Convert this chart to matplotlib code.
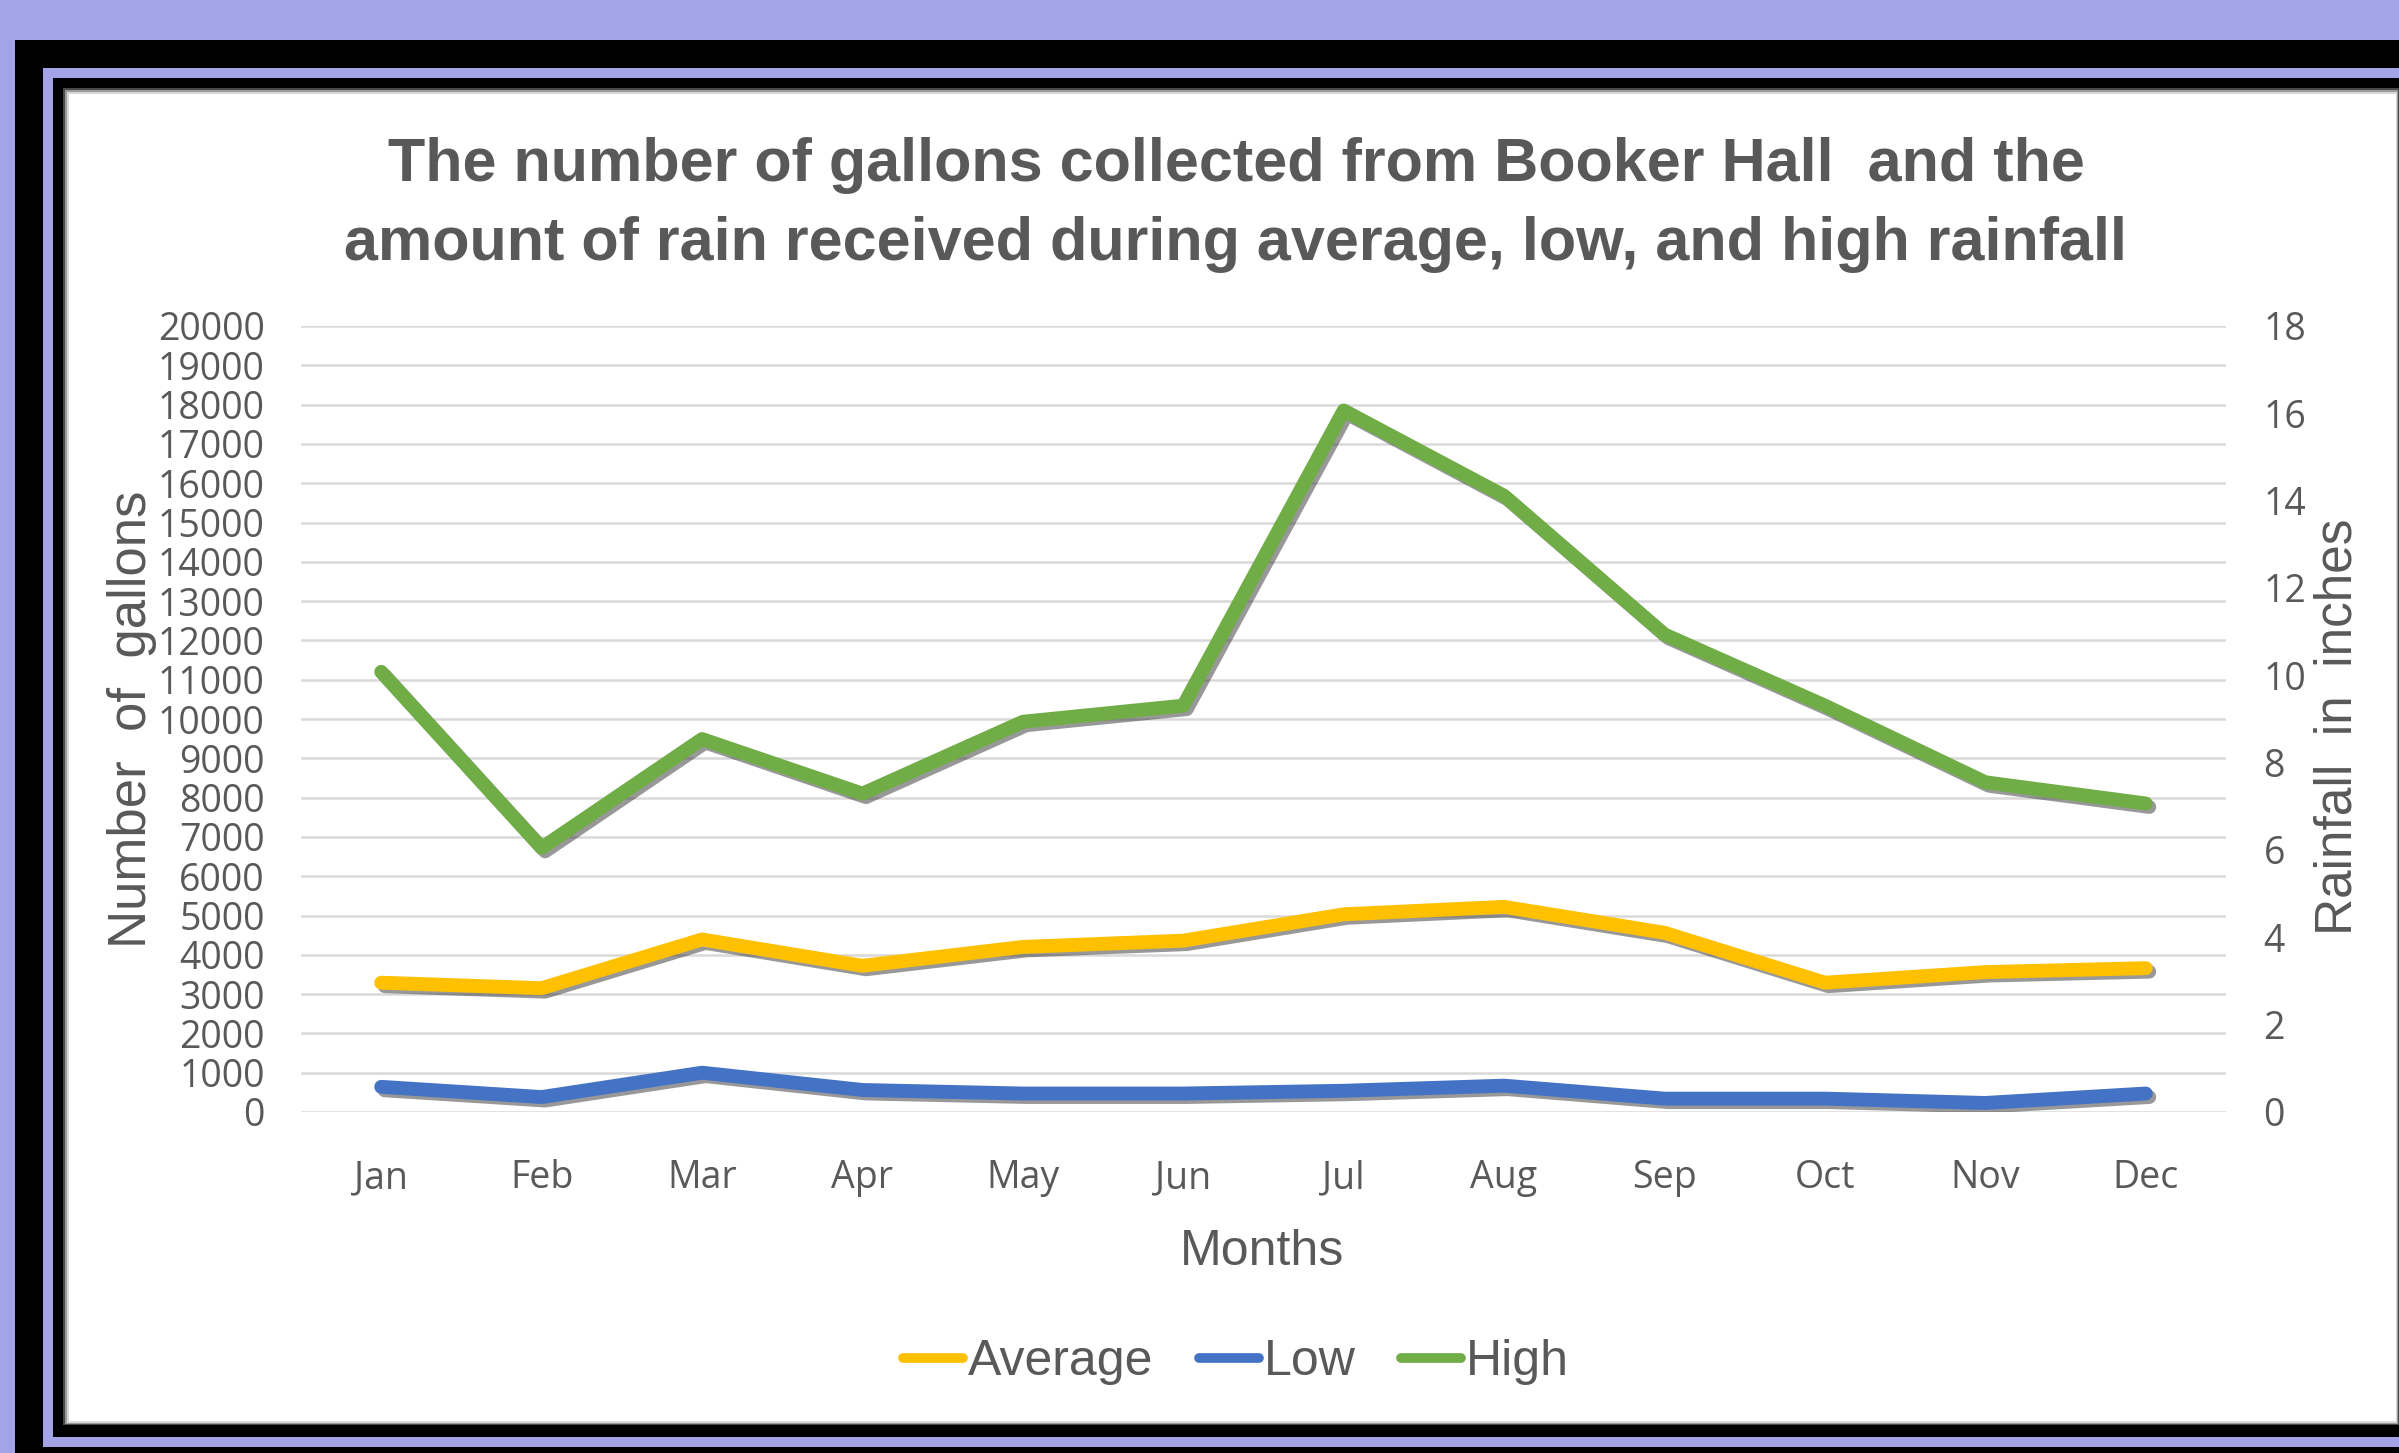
import matplotlib
matplotlib.use("Agg")
import matplotlib.pyplot as plt
import matplotlib.patheffects as pe
from matplotlib.patches import Rectangle

# chart data
months = ['Jan', 'Feb', 'Mar', 'Apr', 'May', 'Jun', 'Jul', 'Aug', 'Sep', 'Oct', 'Nov', 'Dec']
average = [3290, 3150, 4390, 3720, 4200, 4360, 5030, 5220, 4560, 3290, 3560, 3660]
low = [640, 380, 1000, 560, 470, 470, 540, 670, 340, 340, 230, 470]
high = [11200, 6720, 9490, 8100, 9930, 10340, 17850, 15680, 12150, 10340, 8390, 7850]
gallon_ticks = list(range(0, 20001, 1000))
rain_ticks = list(range(0, 19, 2))

W, H = 2399, 1453
LAVENDER = '#A3A3E8'
GREY_TEXT = '#595959'

fig = plt.figure(figsize=(W / 100, H / 100), dpi=100)
fig.patch.set_facecolor(LAVENDER)


def rect(x0, y0, x1, y1, color, z=0):
    # pixel coords measured from the top-left corner
    fig.add_artist(Rectangle((x0 / W, 1 - y1 / H), (x1 - x0) / W, (y1 - y0) / H,
                             transform=fig.transFigure, facecolor=color,
                             edgecolor='none', zorder=z))


# frame of the screenshot, with a soft inner shadow on the white card
rect(15, 40, W + 10, H + 10, 'black', -5)
rect(43, 68, W + 10, 1447, LAVENDER, -4)
rect(53, 78, W + 10, 1437, 'black', -3)
rect(63, 88, W, 1425, '#4a4a4a', -2.6)
rect(65, 90, W - 1, 1424, '#9a9a9a', -2.3)
rect(67, 92, W - 2, 1423, '#d8d8d8', -2)
rect(69, 94, W - 3, 1421, 'white', -1)

ax = fig.add_axes([301 / W, 1 - 1112 / H, (2226 - 301) / W, (1112 - 326) / H])
ax.set_facecolor('none')

shadow = [pe.SimpleLineShadow(offset=(2.5, -2.5), shadow_color='#333333', alpha=0.5), pe.Normal()]
x = range(len(months))
ax.plot(x, average, color='#FFC000', lw=10, label='Average', path_effects=shadow, solid_capstyle='round')
ax.plot(x, low, color='#4472C4', lw=10, label='Low', path_effects=shadow, solid_capstyle='round')
ax.plot(x, high, color='#70AD47', lw=10, label='High', path_effects=shadow, solid_capstyle='round')

ax.set_xlim(-0.5, len(months) - 0.5)
ax.set_ylim(0, 20000)
ax.set_yticks(gallon_ticks)
ax.set_xticks(list(x))
ax.set_xticklabels(months)
ax.grid(axis='y', color='#D9D9D9', lw=1.8)
ax.set_axisbelow(True)
for s in ax.spines.values():
    s.set_visible(False)
ax.tick_params(axis='both', length=0, labelcolor=GREY_TEXT, labelsize=27)
ax.tick_params(axis='y', pad=26)
ax.tick_params(axis='x', pad=34)
for lab in ax.get_xticklabels() + ax.get_yticklabels():
    lab.set_family(['Open Sans', 'DejaVu Sans'])

ax2 = ax.twinx()
ax2.set_ylim(0, 18)
ax2.set_yticks(rain_ticks)
for s in ax2.spines.values():
    s.set_visible(False)
ax2.tick_params(axis='y', length=0, labelcolor=GREY_TEXT, labelsize=27, pad=27)
for lab in ax2.get_yticklabels():
    lab.set_family(['Open Sans', 'DejaVu Sans'])

font = ['Liberation Sans', 'DejaVu Sans']
fig.text(1236 / W, 1 - 205 / H,
         'The number of gallons collected from Booker Hall  and the\n'
         'amount of rain received during average, low, and high rainfall',
         ha='center', va='center', fontsize=44, fontweight='bold', color=GREY_TEXT,
         family=font, linespacing=1.5)
fig.text(132 / W, 1 - 719 / H, 'Number  of  gallons', rotation=90, ha='center', va='center',
         fontsize=38, color=GREY_TEXT, family=font)
fig.text(2338 / W, 1 - 727 / H, 'Rainfall  in  inches', rotation=90, ha='center', va='center',
         fontsize=37, color=GREY_TEXT, family=font)
fig.text(1262 / W, 1 - 1252 / H, 'Months', ha='center', va='center',
         fontsize=36, color=GREY_TEXT, family=font)

leg = fig.legend(loc='center', bbox_to_anchor=(1236 / W, 1 - 1362 / H), ncol=3, frameon=False,
                 handlelength=1.2, handletextpad=0.1, columnspacing=0.9,
                 prop={'family': font, 'size': 36})
for t in leg.get_texts():
    t.set_color(GREY_TEXT)
for h in leg.legend_handles:
    h.set_linewidth(7)
    h.set_path_effects([])

fig.savefig('out.png', dpi=100, facecolor=fig.get_facecolor())
